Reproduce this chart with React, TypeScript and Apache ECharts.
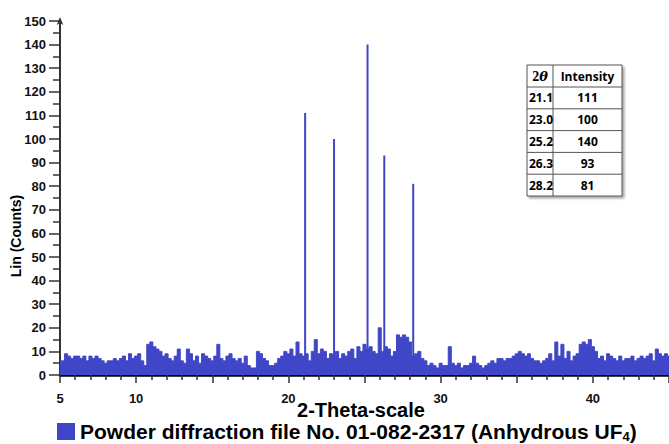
import React, { useEffect, useRef } from "react";
import * as echarts from "echarts";

// Peaks (2θ, intensity)
const peakTheta = [21.1, 23.0, 25.2, 26.3, 28.2];
const peakIntensity = [111, 100, 140, 93, 81];
const tableTheta = ["21.1", "23.0", "25.2", "26.3", "28.2"];
const tableIntensity = ["111", "100", "140", "93", "81"];

// Background noise, read at 0.2° steps from 5.0° to 45.0°
const noiseStart = 5.0;
const noiseStep = 0.2;
const noise = [
  6, 6, 9, 8, 7, 8, 8, 7, 8, 6,
  8, 7, 8, 7, 6, 5, 6, 6, 7, 6,
  7, 8, 6, 9, 7, 8, 9, 6, 4, 13,
  14, 12, 11, 10, 8, 9, 7, 6, 8, 11,
  6, 5, 11, 9, 6, 8, 5, 9, 8, 7,
  6, 8, 13, 7, 6, 8, 9, 7, 6, 7,
  5, 8, 4, 3, 3, 10, 9, 7, 6, 4,
  4, 5, 7, 8, 10, 9, 11, 8, 14, 9,
  8, 9, 6, 10, 15, 9, 11, 10, 7, 9,
  8, 10, 7, 9, 8, 10, 11, 7, 12, 10,
  13, 11, 12, 10, 9, 20, 10, 12, 11, 8,
  10, 17, 16, 17, 16, 14, 8, 9, 10, 7,
  6, 4, 5, 4, 3, 5, 4, 4, 12, 5,
  4, 5, 3, 4, 4, 5, 8, 5, 4, 3,
  4, 5, 6, 5, 7, 7, 6, 7, 7, 8,
  9, 10, 9, 8, 9, 7, 6, 6, 5, 6,
  7, 9, 6, 14, 8, 13, 7, 10, 6, 8,
  9, 13, 14, 13, 15, 12, 10, 7, 8, 6,
  9, 8, 7, 6, 8, 6, 7, 7, 8, 6,
  7, 8, 7, 8, 9, 6, 11, 9, 8, 9,
  8,
];

const xLabels = [5, 10, 20, 30, 40];
const seriesName = "Powder diffraction file No. 01-082-2317 (Anhydrous UF4)";
const BLUE = "#4046c8";

export default function App() {
  const ref = useRef<HTMLDivElement>(null);
  useEffect(() => {
    if (!ref.current) return;
    const chart = echarts.init(ref.current, null, { renderer: "svg" });
    const noiseData = noise.map((v, i) => [+(noiseStart + i * noiseStep).toFixed(2), v]);
    const peakData = peakTheta.map((t, i) => [t, peakIntensity[i]]);

    const tx = 527, ty = 65, tw = 95, colX = 553, hh = 22, rh = 21.8;
    const tableEls: any[] = [];
    tableEls.push({
      type: "rect",
      shape: { x: tx, y: ty, width: tw, height: hh + rh * 5 },
      style: { fill: "#fff", stroke: "#555", lineWidth: 1, shadowColor: "rgba(0,0,0,0.35)", shadowOffsetX: 2, shadowOffsetY: 2, shadowBlur: 2 },
      z: 10,
    });
    tableEls.push({ type: "line", shape: { x1: colX, y1: ty, x2: colX, y2: ty + hh + rh * 5 }, style: { stroke: "#555", lineWidth: 1 }, z: 11 });
    for (let i = 0; i < 5; i++) {
      const yy = ty + hh + rh * i;
      tableEls.push({ type: "line", shape: { x1: tx, y1: yy, x2: tx + tw, y2: yy }, style: { stroke: "#555", lineWidth: 1 }, z: 11 });
    }
    tableEls.push({
      type: "text", x: (tx + colX) / 2, y: ty + hh / 2, z: 12,
      style: {
        text: "{a|2}{b|θ}", align: "center", verticalAlign: "middle",
        rich: {
          a: { fontFamily: "Liberation Serif", fontWeight: "bold", fontSize: 14, fill: "#000" },
          b: { fontFamily: "DejaVu Serif", fontWeight: "bold", fontStyle: "italic", fontSize: 13, fill: "#000" },
        },
      },
    });
    tableEls.push({
      type: "text", x: (colX + tx + tw) / 2, y: ty + hh / 2, z: 12,
      style: { text: "Intensity", align: "center", verticalAlign: "middle", fontFamily: "Open Sans", fontWeight: "bold", fontSize: 12, fill: "#000" },
    });
    for (let i = 0; i < 5; i++) {
      const cy = ty + hh + rh * i + rh / 2;
      tableEls.push({
        type: "text", x: (tx + colX) / 2 + 1, y: cy, z: 12,
        style: { text: tableTheta[i], align: "center", verticalAlign: "middle", fontFamily: "Open Sans", fontWeight: "bold", fontSize: 12, fill: "#000" },
      });
      tableEls.push({
        type: "text", x: (colX + tx + tw) / 2, y: cy, z: 12,
        style: { text: tableIntensity[i], align: "center", verticalAlign: "middle", fontFamily: "Open Sans", fontWeight: "bold", fontSize: 12, fill: "#000" },
      });
    }

    chart.setOption({
      animation: false,
      backgroundColor: "#fff",
      grid: { left: 60, right: 0, top: 21, bottom: 69, containLabel: false },
      xAxis: {
        type: "value",
        min: 5,
        max: 45,
        interval: 5,
        splitLine: { show: false },
        axisLine: { show: true, onZero: false, lineStyle: { color: "#000", width: 2.5 } },
        axisTick: { show: true, length: 8, lineStyle: { color: "#333", width: 1.5 } },
        minorTick: { show: true, splitNumber: 5, length: 5, lineStyle: { color: "#333", width: 1.5 } },
        axisLabel: {
          margin: 17,
          fontFamily: "Liberation Sans",
          fontWeight: "bold",
          fontSize: 13,
          color: "#111",
          showMaxLabel: false,
          formatter: (v: number) => (xLabels.includes(v) ? String(v) : ""),
        },
      },
      yAxis: {
        type: "value",
        min: 0,
        max: 150,
        interval: 10,
        splitLine: { show: false },
        axisLine: {
          show: true, onZero: false,
          lineStyle: { color: "#333", width: 2 },
          symbol: ["none", "arrow"], symbolSize: [5, 8], symbolOffset: [0, 4],
        },
        axisTick: { show: true, length: 11, lineStyle: { color: "#333", width: 1.5 } },
        minorTick: { show: true, splitNumber: 2, length: 7, lineStyle: { color: "#333", width: 1.5 } },
        axisLabel: { margin: 14, fontFamily: "Liberation Sans", fontWeight: "bold", fontSize: 13, color: "#111" },
      },
      legend: {
        left: 57,
        top: 421,
        padding: 0,
        itemWidth: 18,
        itemHeight: 17,
        itemGap: 4,
        icon: "rect",
        data: [{ name: seriesName, icon: "rect", itemStyle: { color: BLUE } }],
        formatter: () => "{a|Powder diffraction file No. 01-082-2317 (Anhydrous UF}{s|4}{a|)}",
        textStyle: {
          padding: [0, 0, 0, 0],
          rich: {
            a: { fontFamily: "Liberation Sans", fontWeight: "bold", fontSize: 21, color: "#000" },
            s: { fontFamily: "Liberation Sans", fontWeight: "bold", fontSize: 13, color: "#000", verticalAlign: "bottom", padding: [10, 0, 0, 0] },
          },
        },
      },
      graphic: [
        {
          type: "text", x: 361, y: 410, z: 5,
          style: { text: "2-Theta-scale", align: "center", verticalAlign: "middle", fontFamily: "Liberation Sans", fontWeight: "bold", fontSize: 20, fill: "#000" },
        },
        {
          type: "text", x: 16, y: 236, rotation: Math.PI / 2, z: 5,
          style: { text: "Lin (Counts)", align: "center", verticalAlign: "middle", fontFamily: "Liberation Sans", fontWeight: "bold", fontSize: 14, fill: "#000" },
        },
        ...tableEls,
      ],
      series: [
        {
          name: seriesName,
          type: "line",
          step: "middle",
          data: noiseData,
          symbol: "none",
          lineStyle: { color: BLUE, width: 1 },
          itemStyle: { color: BLUE },
          areaStyle: { color: BLUE, opacity: 1 },
          z: 2,
        },
        {
          name: seriesName,
          type: "bar",
          data: peakData,
          barWidth: 2,
          itemStyle: { color: BLUE },
          z: 3,
        },
      ],
    });
    return () => chart.dispose();
  }, []);
  return <div ref={ref} style={{ width: 669, height: 444, position: "absolute", left: 0, top: 0 }} />;
}
